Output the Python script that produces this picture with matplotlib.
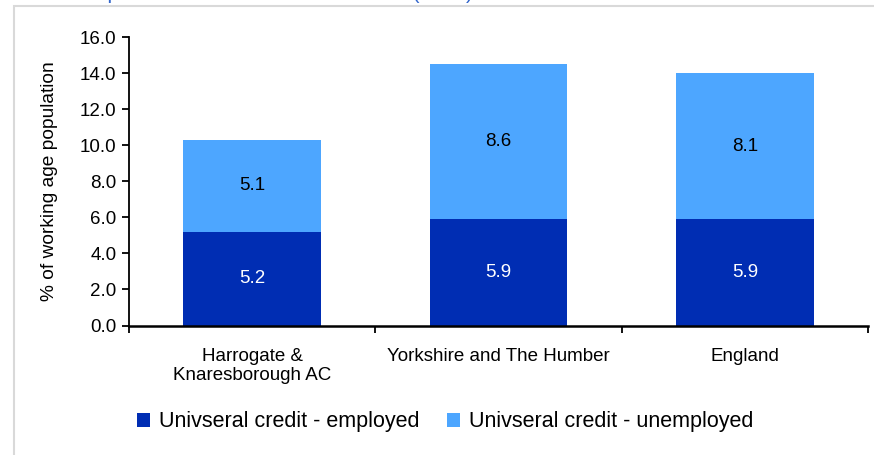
import matplotlib.pyplot as plt
import matplotlib.patches as mpatches
import numpy as np

plt.rcParams['font.family'] = ['Liberation Sans', 'DejaVu Sans']

areas = ['Harrogate &\nKnaresborough AC', 'Yorkshire and The Humber', 'England']
employed = [5.2, 5.9, 5.9]
unemployed = [5.1, 8.6, 8.1]

dark = '#002db3'
light = '#4da6ff'

fig = plt.figure(figsize=(8.74, 4.55), dpi=100)

# cut-off source line and chart frame
fig.text(0.003, 1.014, 'Source: Department for Work and Pensions (2021)',
         color='#3366cc', fontsize=15, va='center', ha='left')
fig.patches.append(mpatches.Rectangle((14 / 874, -0.1), 2, (455 - 6) / 455 + 0.1,
                                      transform=fig.transFigure, fill=False,
                                      edgecolor='#d9d9d9', linewidth=1.5))

ax = fig.add_axes([129 / 874, 129.5 / 455, 739 / 874, 288.2 / 455])
x = np.arange(len(areas))
b1 = ax.bar(x, employed, width=0.56, color=dark, label='Univseral credit - employed')
b2 = ax.bar(x, unemployed, width=0.56, bottom=employed, color=light,
            label='Univseral credit - unemployed')

for i in range(len(areas)):
    ax.text(x[i], employed[i] / 2, f'{employed[i]:.1f}', ha='center', va='center',
            color='white', fontsize=13.5)
    ax.text(x[i], employed[i] + unemployed[i] / 2, f'{unemployed[i]:.1f}',
            ha='center', va='center', color='black', fontsize=13.5)

ax.set_xlim(-0.5, 2.5)
ax.set_ylim(0, 16)
ax.set_yticks(np.arange(0, 16.1, 2))
ax.set_yticklabels([f'{v:.1f}' for v in np.arange(0, 16.1, 2)], fontsize=13.5)
ax.set_xticks([-0.5, 0.5, 1.5, 2.5])
ax.set_xticklabels([])
ax.set_xticks(x, minor=True)
ax.set_xticklabels(areas, minor=True, fontsize=13.5)
ax.tick_params(axis='x', which='minor', length=0, pad=16)
ax.tick_params(axis='x', which='major', length=5, width=1.3, direction='out')
ax.tick_params(axis='y', length=5, width=1.3, direction='out', pad=4)
ax.set_ylabel('% of working age population', fontsize=13.8, labelpad=16)

for s in ['top', 'right']:
    ax.spines[s].set_visible(False)
ax.spines['left'].set_linewidth(1.3)
ax.spines['bottom'].set_linewidth(1.8)

fig.legend(handles=[b1, b2], loc='center', bbox_to_anchor=(445 / 874, 1 - 422 / 455),
           ncol=2, frameon=False, fontsize=15.5, handlelength=0.6, handleheight=0.6,
           handletextpad=0.4, columnspacing=1.3)

fig.savefig('out.png', dpi=100)
